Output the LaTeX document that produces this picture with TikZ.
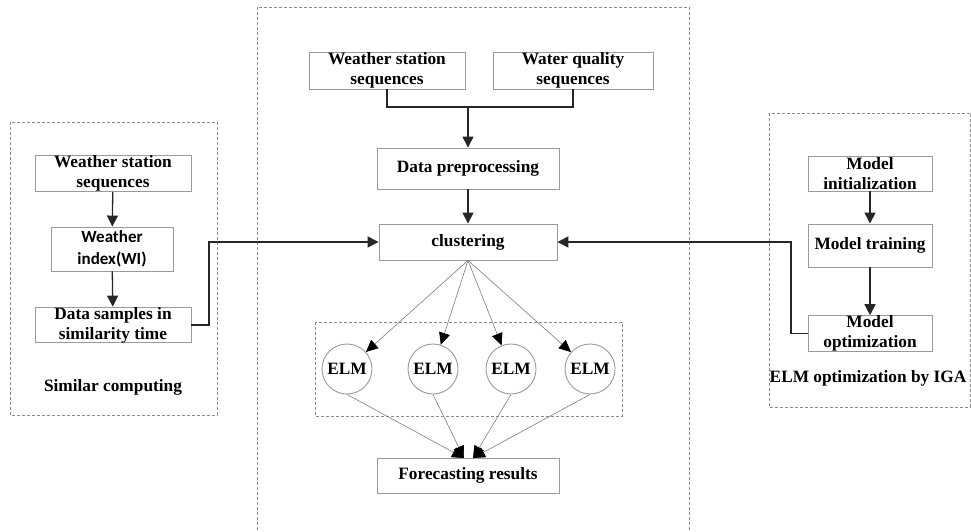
\documentclass[tikz,border=0pt]{standalone}
\usepackage{fontspec}
\setmainfont{Liberation Serif}
\newfontfamily\calib{Carlito}
\usetikzlibrary{arrows.meta,calc}
\definecolor{boxgray}{HTML}{9A9A9A}
\definecolor{dashgray}{HTML}{8C8C8C}
\definecolor{linedark}{HTML}{262626}
\tikzset{
  every node/.style={font=\fontsize{17.3}{20}\selectfont\bfseries},
  procbox/.style={draw=boxgray, line width=0.9pt, rectangle, inner sep=0pt, align=center},
  elmnode/.style={draw=boxgray, line width=0.9pt, circle, inner sep=0pt, minimum size=50pt},
  groupbox/.style={draw=dashgray, dashed, dash pattern=on 3pt off 2pt, line width=0.7pt},
  flow/.style={draw=linedark, line width=1.3pt, -{Triangle[length=11pt,width=11pt]}},
  plainline/.style={draw=linedark, line width=1.3pt},
  fan/.style={draw=gray, line width=0.6pt, -{Triangle[length=12pt,width=11pt,color=black]}},
  caption/.style={inner sep=0pt}
}
\begin{document}
\begin{tikzpicture}[x=1pt,y=-1pt]
\useasboundingbox (0,0) rectangle (971,532);
\fill[white] (0,0) rectangle (971,532);
% group boxes
\draw[groupbox] (10,122) rectangle (217,415);
\draw[groupbox] (257,7) rectangle (689,545);
\draw[groupbox] (315,322) rectangle (622,416);
\draw[groupbox] (769,113) rectangle (970.3,407);
% left column
\node[procbox, minimum width=156pt, minimum height=35pt] (lws) at (113,173.5) {Weather station\\sequences};
\node[procbox, minimum width=122pt, minimum height=44pt, font=\calib\fontsize{17}{22}\selectfont\bfseries] (lwi) at (112,249) {Weather\\index(WI)};
\node[procbox, minimum width=156pt, minimum height=34pt] (lds) at (113,325) {Data samples in\\similarity time};
\node[caption] (lcap) at (113,387) {Similar computing};
% center column
\node[procbox, minimum width=156pt, minimum height=37pt] (cws) at (387,70.5) {Weather station\\sequences};
\node[procbox, minimum width=160pt, minimum height=37pt] (cwq) at (573,70.5) {Water quality\\sequences};
\node[procbox, minimum width=182pt, minimum height=41pt] (dp) at (468,168.5) {Data preprocessing};
\node[procbox, minimum width=178pt, minimum height=36pt] (cl) at (468,242) {clustering};
\node[elmnode] (e1) at (347,369) {ELM};
\node[elmnode] (e2) at (433,369) {ELM};
\node[elmnode] (e3) at (511,369) {ELM};
\node[elmnode] (e4) at (590,369) {ELM};
\node[procbox, minimum width=182pt, minimum height=35pt] (fr) at (468,475.5) {Forecasting results};
% right column
\node[procbox, minimum width=124pt, minimum height=35pt] (mi) at (870,173.5) {Model\\initialization};
\node[procbox, minimum width=124pt, minimum height=43pt] (mt) at (870,245.5) {Model training};
\node[procbox, minimum width=124pt, minimum height=35pt] (mo) at (870,333.5) {Model\\optimization};
\node[caption] (rcap) at (868,378) {ELM optimization by IGA};
% helper coordinates
\coordinate (mg) at (468,107);
\coordinate (lk) at (209,0);
\coordinate (rk) at (791,0);
\coordinate (f1) at (464,458);
\coordinate (f2) at (473,458);
% connectors
\draw[flow] (lws) -- (lwi);
\draw[flow] (lwi) -- (lds);
\draw[flow] (lds.east) -| (lk |- cl.west) -- (cl.west);
\draw[plainline] (cws.south) |- (mg);
\draw[plainline] (cwq.south) |- (mg);
\draw[flow] (mg) -- (dp.north);
\draw[flow] (dp) -- (cl);
\draw[flow] (mi) -- (mt);
\draw[flow] (mt) -- (mo);
\draw[flow] (mo.west) -| (rk |- cl.east) -- (cl.east);
\foreach \e in {e1,e2,e3,e4} \draw[fan] (cl.south) -- (\e);
\draw[fan] (e1.south) -- (f1);
\draw[fan] (e2.south) -- (f1);
\draw[fan] (e3.south) -- (f2);
\draw[fan] (e4.south) -- (f2);
\end{tikzpicture}
\end{document}
